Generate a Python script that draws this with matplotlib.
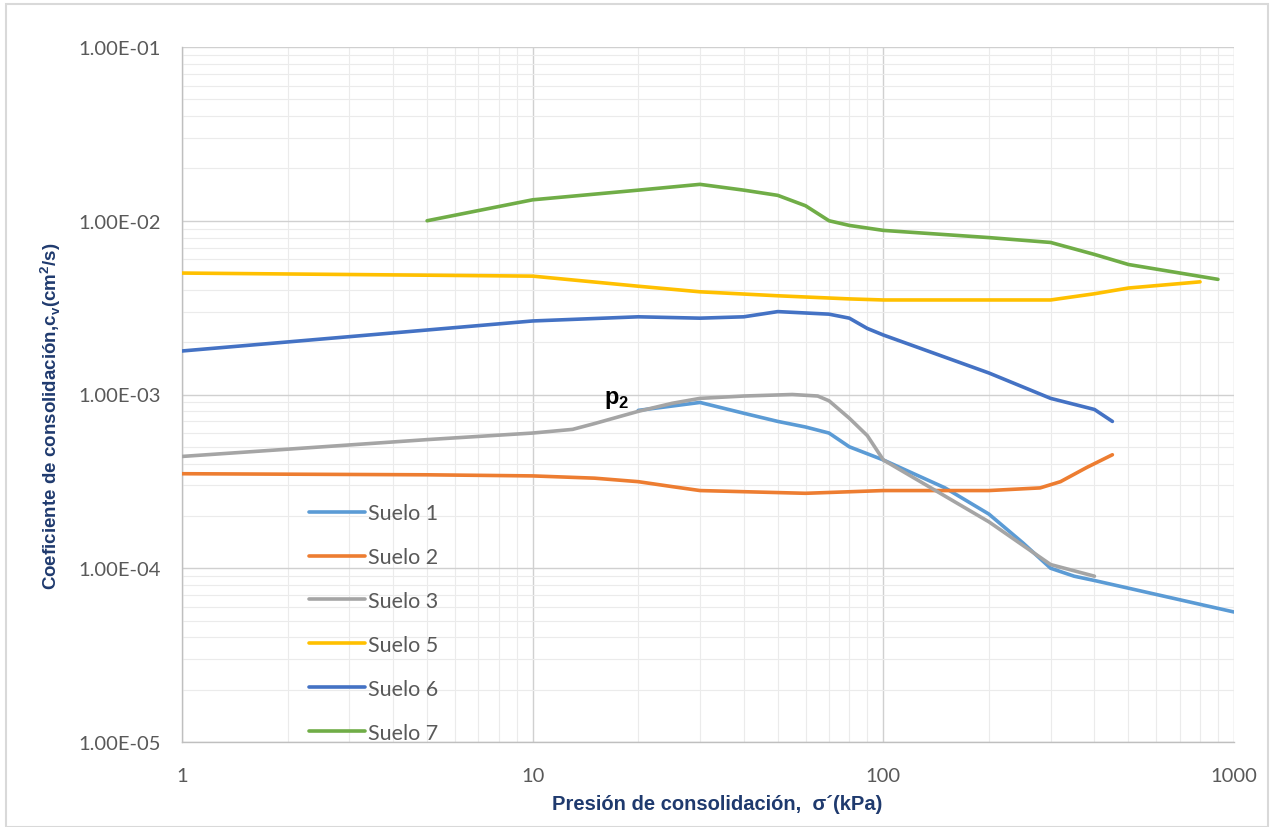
import matplotlib
matplotlib.use("Agg")
import matplotlib.pyplot as plt
from matplotlib.patches import Rectangle
from matplotlib.ticker import LogLocator, FixedLocator, FixedFormatter

# ---- data ----
x1 = [20, 30, 40, 50, 60, 70, 80, 100, 150, 200, 250, 300, 350, 400, 1000]
y1 = [8.1e-4, 9.0e-4, 7.8e-4, 7.0e-4, 6.5e-4, 6.0e-4, 5.0e-4, 4.2e-4, 2.9e-4, 2.05e-4, 1.4e-4, 1.0e-4, 9.0e-5, 8.5e-5, 5.6e-5]

x2 = [1, 5, 10, 15, 20, 25, 30, 60, 100, 200, 280, 320, 380, 450]
y2 = [3.5e-4, 3.45e-4, 3.4e-4, 3.3e-4, 3.15e-4, 2.95e-4, 2.8e-4, 2.7e-4, 2.8e-4, 2.8e-4, 2.9e-4, 3.15e-4, 3.8e-4, 4.5e-4]

x3 = [1, 5, 10, 13, 15, 20, 25, 30, 40, 55, 65, 70, 80, 90, 100, 200, 300, 400]
y3 = [4.4e-4, 5.5e-4, 6.0e-4, 6.3e-4, 6.8e-4, 8.0e-4, 8.9e-4, 9.5e-4, 9.8e-4, 1.0e-3, 9.8e-4, 9.2e-4, 7.3e-4, 5.8e-4, 4.2e-4, 1.85e-4, 1.05e-4, 9.0e-5]

x5 = [1, 10, 20, 30, 50, 80, 100, 200, 300, 400, 500, 800]
y5 = [5.0e-3, 4.8e-3, 4.2e-3, 3.9e-3, 3.7e-3, 3.55e-3, 3.5e-3, 3.5e-3, 3.5e-3, 3.8e-3, 4.1e-3, 4.45e-3]

x6 = [1, 10, 20, 30, 40, 50, 70, 80, 90, 100, 200, 300, 400, 450]
y6 = [1.78e-3, 2.65e-3, 2.8e-3, 2.75e-3, 2.8e-3, 3.0e-3, 2.9e-3, 2.75e-3, 2.4e-3, 2.2e-3, 1.33e-3, 9.5e-4, 8.2e-4, 7.0e-4]

x7 = [5, 10, 20, 30, 40, 50, 60, 70, 80, 100, 200, 300, 400, 500, 900]
y7 = [1.0e-2, 1.32e-2, 1.5e-2, 1.62e-2, 1.5e-2, 1.4e-2, 1.22e-2, 1.0e-2, 9.4e-3, 8.8e-3, 8.0e-3, 7.5e-3, 6.4e-3, 5.6e-3, 4.6e-3]

series = [
    ("Suelo 1", x1, y1, "#5B9BD5"),
    ("Suelo 2", x2, y2, "#ED7D31"),
    ("Suelo 3", x3, y3, "#A5A5A5"),
    ("Suelo 5", x5, y5, "#FFC000"),
    ("Suelo 6", x6, y6, "#4472C4"),
    ("Suelo 7", x7, y7, "#70AD47"),
]

x_ticks = [1, 10, 100, 1000]
x_tick_labels = ["1", "10", "100", "1000"]
y_ticks = [1e-5, 1e-4, 1e-3, 1e-2, 1e-1]
y_tick_labels = ["1.00E-05", "1.00E-04", "1.00E-03", "1.00E-02", "1.00E-01"]

# ---- figure ----
fig = plt.figure(figsize=(12.76, 8.28), dpi=100)
ax = fig.add_axes([182/1276, 1-743/828, (1234-182)/1276, (743-48)/828])

for name, xs, ys, c in series:
    ax.plot(xs, ys, color=c, lw=2.6, label=name, solid_capstyle="round",
            solid_joinstyle="round", zorder=3)

ax.set_xscale("log")
ax.set_yscale("log")
ax.set_xlim(1, 1000)
ax.set_ylim(1e-5, 1e-1)

ax.xaxis.set_major_locator(FixedLocator(x_ticks))
ax.xaxis.set_major_formatter(FixedFormatter(x_tick_labels))
ax.yaxis.set_major_locator(FixedLocator(y_ticks))
ax.yaxis.set_major_formatter(FixedFormatter(y_tick_labels))
ax.xaxis.set_minor_locator(LogLocator(base=10, subs=range(2, 10)))
ax.yaxis.set_minor_locator(LogLocator(base=10, subs=range(2, 10)))
ax.xaxis.set_minor_formatter(plt.NullFormatter())
ax.yaxis.set_minor_formatter(plt.NullFormatter())

ax.grid(True, which="major", color="#D0D0D0", lw=1.0, zorder=0)
ax.grid(True, which="minor", color="#EBEBEB", lw=0.8, zorder=0)
ax.set_axisbelow(True)

for s in ["top", "right"]:
    ax.spines[s].set_visible(False)
for s in ["left", "bottom"]:
    ax.spines[s].set_color("#BFBFBF")
    ax.spines[s].set_linewidth(1.0)

ax.tick_params(which="both", length=0)
ax.tick_params(axis="both", labelsize=14.5, labelcolor="#595959")
for lab in ax.get_xticklabels() + ax.get_yticklabels():
    lab.set_family("Lato")
ax.tick_params(axis="y", pad=15)
ax.tick_params(axis="x", pad=18)

navy = "#1F3A6E"
ax.set_xlabel("Presión de consolidación,  σ´(kPa)", fontsize=14.5, fontweight="bold",
              color=navy, family="Liberation Sans")
ax.set_ylabel("Coeficiente de consolidación,c$_\\mathregular{v}$(cm$^\\mathregular{2}$/s)",
              fontsize=13.5, fontweight="bold", color=navy, family="Liberation Sans")
ax.xaxis.label.set_va("center")
ax.yaxis.label.set_va("center")
ax.xaxis.set_label_coords(0.509, -0.089)
ax.yaxis.set_label_coords(-0.1245, 0.47)

ax.text(18.8, 9.5e-4, "p$_\\mathregular{2}$", fontsize=17, fontweight="bold", color="black",
        family="Liberation Sans", ha="right", va="center")

leg = ax.legend(loc="upper left", bbox_to_anchor=(0.1126, 0.356), frameon=False,
                fontsize=15.5, labelspacing=1.11, handlelength=2.6, handletextpad=0.15,
                borderaxespad=0)
for t in leg.get_texts():
    t.set_color("#595959")
    t.set_family("Lato")

fig.patches.append(Rectangle((6/1276, 0), 1262/1276, 1-5/828, transform=fig.transFigure,
                             fill=False, edgecolor="#D9D9D9", lw=1.5))

fig.savefig("out.png", dpi=100)
